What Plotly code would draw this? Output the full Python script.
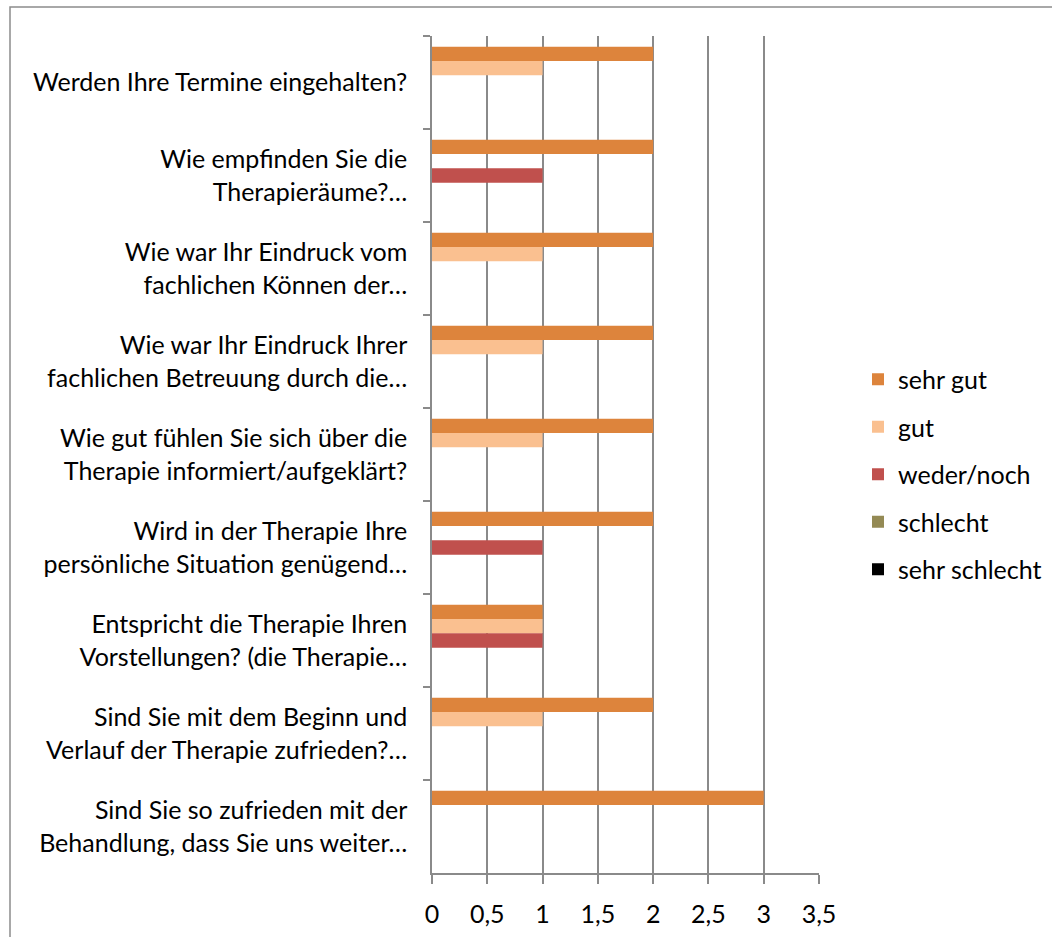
import plotly.graph_objects as go

categories = [
    "Werden Ihre Termine eingehalten?",
    "Wie empfinden Sie die<br>Therapieräume?…",
    "Wie war Ihr Eindruck vom<br>fachlichen Können der…",
    "Wie war Ihr Eindruck Ihrer<br>fachlichen Betreuung durch die…",
    "Wie gut fühlen Sie sich über die<br>Therapie informiert/aufgeklärt?",
    "Wird in der Therapie Ihre<br>persönliche Situation genügend…",
    "Entspricht die Therapie Ihren<br>Vorstellungen? (die Therapie…",
    "Sind Sie mit dem Beginn und<br>Verlauf der Therapie zufrieden?…",
    "Sind Sie so zufrieden mit der<br>Behandlung, dass Sie uns weiter…",
]

series_names = ["sehr gut", "gut", "weder/noch", "schlecht", "sehr schlecht"]
sehr_gut = [2, 2, 2, 2, 2, 2, 1, 2, 3]
gut = [1, 0, 1, 1, 1, 0, 1, 1, 0]
weder_noch = [0, 1, 0, 0, 0, 1, 1, 0, 0]
schlecht = [0, 0, 0, 0, 0, 0, 0, 0, 0]
sehr_schlecht = [0, 0, 0, 0, 0, 0, 0, 0, 0]
colors = ["#DD843C", "#FAC090", "#C0504D", "#948A54", "#000000"]

FONT = "Lato"
FS = 25
GRID = "#8a8a8a"

fig = go.Figure()
for name, vals, col in zip(series_names,
                           [sehr_gut, gut, weder_noch, schlecht, sehr_schlecht],
                           colors):
    fig.add_trace(go.Bar(
        y=categories, x=vals, name=name, orientation="h",
        marker=dict(color=col, line=dict(width=0)),
        legendgroup=name,
    ))

fig.update_layout(
    width=1052, height=937,
    margin=dict(l=432, r=233, t=36, b=64, pad=0, autoexpand=False),
    paper_bgcolor="white", plot_bgcolor="white",
    barmode="group", bargap=0.23, bargroupgap=0,
    separators=",.",
    font=dict(family=FONT, size=FS, color="#000000"),
    legend=dict(
        xref="container", x=858 / 1052, xanchor="left",
        y=0.476, yanchor="middle",
        traceorder="grouped", tracegroupgap=12,
        font=dict(family=FONT, size=FS, color="#000000"),
        bgcolor="rgba(0,0,0,0)",
    ),
    xaxis=dict(
        range=[0, 3.5], dtick=0.5, tick0=0,
        showgrid=True, gridcolor=GRID, gridwidth=1.5,
        zeroline=False, showline=True, linecolor=GRID, linewidth=1.5,
        ticks="outside", ticklen=9, tickcolor=GRID, tickwidth=1.5,
        tickfont=dict(family=FONT, size=FS, color="#000000"),
        ticklabelstandoff=9,
    ),
    yaxis=dict(
        type="category", range=[8.5, -0.5],
        showgrid=False, zeroline=False,
        showline=True, linecolor=GRID, linewidth=1.5,
        ticks="outside", ticklen=7, tickcolor=GRID, tickwidth=1.5,
        tickson="boundaries",
        tickfont=dict(family=FONT, size=FS, color="#000000"),
        ticklabelstandoff=18,
    ),
    shapes=[dict(
        type="rect", xref="paper", yref="paper",
        x0=(10 - 432) / 387, x1=2.0, y0=-0.5, y1=1 + 29 / 837,
        line=dict(color="#8c8c8c", width=1.5), fillcolor="rgba(0,0,0,0)",
        layer="below",
    )],
)

fig.write_html(
    "out.html",
    config={"displayModeBar": False},
    post_script="document.body.style.margin='0';document.body.style.overflow='hidden';",
)
